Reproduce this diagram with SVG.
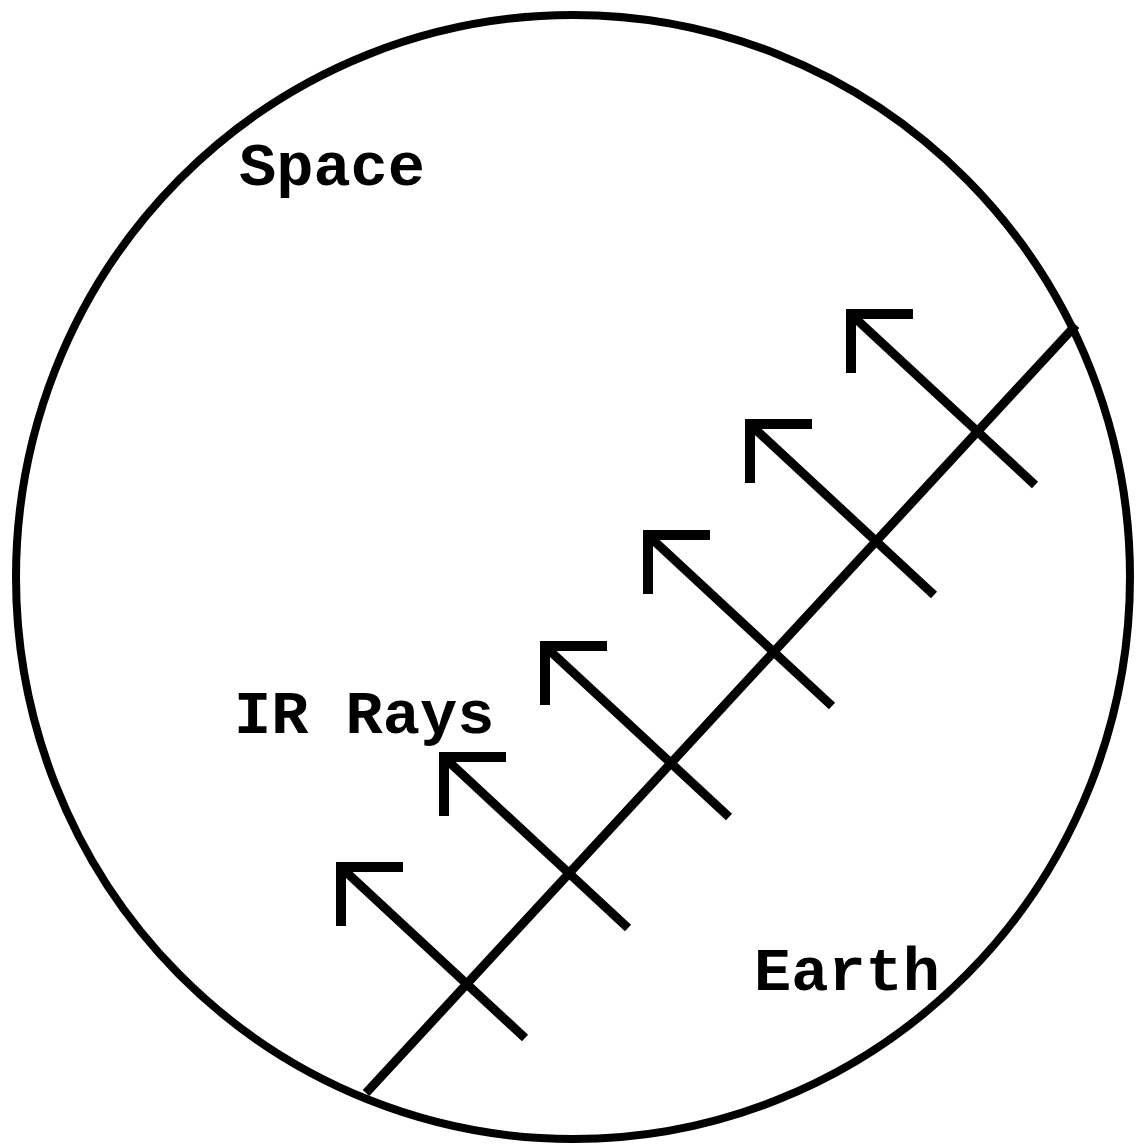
<svg xmlns="http://www.w3.org/2000/svg" width="1136" height="1145" viewBox="0 0 1136 1145">
<defs>
<style>
.ln{fill:none;stroke:#000;stroke-width:9;stroke-linecap:butt;stroke-linejoin:miter}
.hd{fill:none;stroke:#000;stroke-width:10;stroke-linejoin:miter;stroke-linecap:butt}
.lbl{font-family:"Liberation Mono","Courier New",monospace;font-weight:bold;font-size:62px;fill:#000}
</style>
<g id="ray"><polyline class="hd" points="62,0 0,0 0,59"/><line class="ln" x1="4" y1="4" x2="184" y2="171"/></g>
</defs>
<rect width="1136" height="1145" fill="#fff"/>
<g id="boundary">
<ellipse cx="573" cy="577" rx="557" ry="562" fill="none" stroke="#000" stroke-width="8"/>
</g>
<g id="connectors">
<line class="ln" x1="366" y1="1093" x2="1076" y2="325"/>
<use href="#ray" x="341" y="867"/>
<use href="#ray" x="444" y="757"/>
<use href="#ray" x="545" y="646"/>
<use href="#ray" x="648" y="535"/>
<use href="#ray" x="750" y="424"/>
<use href="#ray" x="851" y="314"/>
</g>
<g id="space"><text class="lbl" x="239" y="185">Space</text></g>
<g id="irrays"><text class="lbl" x="234" y="733">IR Rays</text></g>
<g id="earth"><text class="lbl" x="754" y="990">Earth</text></g>
</svg>
